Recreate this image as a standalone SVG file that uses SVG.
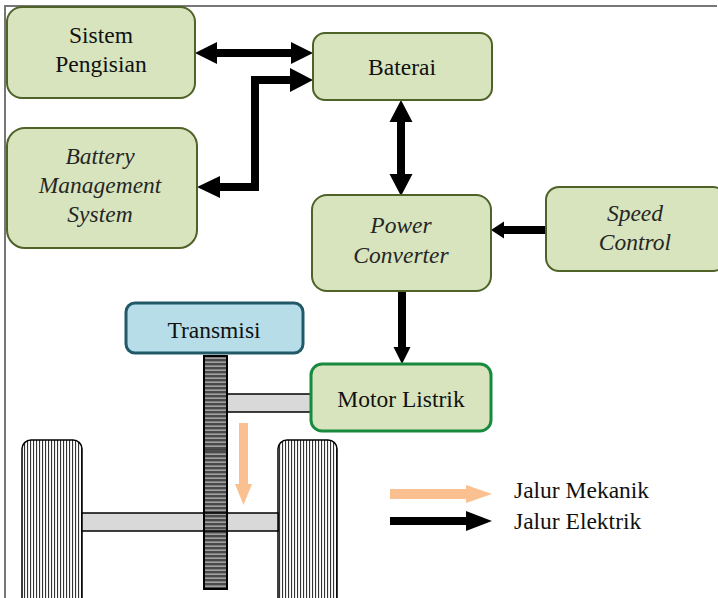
<svg xmlns="http://www.w3.org/2000/svg" width="718" height="598" viewBox="0 0 718 598">
<style>
.box{fill:#d7e4bd;stroke:#4f6228;stroke-width:2}
.t{font-family:'Liberation Serif','Times New Roman',Times,'DejaVu Serif',serif;font-size:23.5px;fill:#111;text-anchor:middle}
.i{font-style:italic;fill:#262626}
.arr{fill:#000}
.org{fill:#fac090}
.bar{fill:#d9d9d9;stroke:#000;stroke-width:1.5}
</style>
<defs>
<pattern id="gearp" width="23" height="4" patternUnits="userSpaceOnUse">
<rect width="23" height="4" fill="#4a4a4a"/>
<rect y="1.5" width="23" height="1.3" fill="#b5b5b5"/>
</pattern>
<pattern id="tire" width="3" height="10" patternUnits="userSpaceOnUse">
<rect width="3" height="10" fill="#fff"/>
<rect x="0" width="1.1" height="10" fill="#333"/>
</pattern>
</defs>
<rect width="718" height="598" fill="#fff"/>
<path d="M5,598 V6 H717" fill="none" stroke="#777" stroke-width="2"/>

<g id="mechanical">
<rect id="wheel-left" x="22" y="440" width="60" height="170" rx="9" fill="url(#tire)" stroke="#000" stroke-width="1.5"/>
<rect id="wheel-right" x="278" y="440" width="59" height="170" rx="9" fill="url(#tire)" stroke="#000" stroke-width="1.5"/>
<rect id="axle" class="bar" x="82" y="513" width="196" height="18"/>
<rect id="motor-shaft" class="bar" x="227" y="394" width="84" height="18"/>
<rect id="gear" x="204" y="356" width="23" height="233" fill="url(#gearp)" stroke="#000" stroke-width="2"/>
<line x1="204" y1="450" x2="227" y2="450" stroke="#000" stroke-width="1"/>
<line x1="204" y1="513" x2="227" y2="513" stroke="#000" stroke-width="1.5"/>
<line x1="204" y1="531" x2="227" y2="531" stroke="#000" stroke-width="1.5"/>
</g>

<g id="connectors">
<polygon class="arr" points="195,53 217,42 217,49 291,49 291,42 313,53 291,64 291,57 217,57 217,64"/>
<polygon class="arr" points="197,187 220,176 220,183 251,183 251,76 290,76 290,68 313,80 290,92 290,84 259,84 259,191 220,191 220,198"/>
<polygon class="arr" points="401,100 412.5,122 405,122 405,174 412.5,174 401,196 389.5,174 397,174 397,122 389.5,122"/>
<polygon class="arr" points="398,291 406,291 406,347 410.5,347 402,364 393.5,347 398,347"/>
<polygon class="arr" points="546,226 504,226 504,221.5 491,230 504,238.5 504,234 546,234"/>
<polygon class="org" points="239,423 248,423 248,484 252,484 243.5,505 235,484 239,484"/>
</g>

<g id="sistem-pengisian">
<rect class="box" x="7" y="7" width="188" height="91" rx="15"/>
<text class="t" x="101" y="43">Sistem</text>
<text class="t" x="101" y="72">Pengisian</text>
</g>
<g id="baterai">
<rect class="box" x="313" y="33" width="179" height="67" rx="12"/>
<text class="t" x="402" y="75">Baterai</text>
</g>
<g id="bms">
<rect class="box" x="7" y="128" width="190" height="120" rx="18"/>
<text class="t i" x="100" y="164">Battery</text>
<text class="t i" x="100" y="193">Management</text>
<text class="t i" x="100" y="222">System</text>
</g>
<g id="power-converter">
<rect class="box" x="312" y="195" width="179" height="96" rx="15"/>
<text class="t i" x="401" y="233">Power</text>
<text class="t i" x="401" y="263">Converter</text>
</g>
<g id="speed-control">
<rect class="box" x="546" y="187" width="180" height="84" rx="13"/>
<text class="t i" x="635" y="221">Speed</text>
<text class="t i" x="635" y="250">Control</text>
</g>
<g id="motor-listrik">
<rect x="311" y="364" width="180" height="67" rx="11" fill="#d7e4bd" stroke="#178a3e" stroke-width="3"/>
<text class="t" x="401" y="407">Motor Listrik</text>
</g>
<g id="transmisi">
<rect x="126" y="303" width="177" height="50" rx="9" fill="#b7dee8" stroke="#215968" stroke-width="3"/>
<text class="t" x="214" y="338">Transmisi</text>
</g>

<g id="legend">
<polygon class="org" points="390,489 466,489 466,485 492,494 466,503 466,499 390,499"/>
<polygon class="arr" points="390,517 466,517 466,511 492,521 466,531 466,525 390,525"/>
<text class="t" x="514" y="498" style="text-anchor:start">Jalur Mekanik</text>
<text class="t" x="514" y="529" style="text-anchor:start">Jalur Elektrik</text>
</g>
</svg>
